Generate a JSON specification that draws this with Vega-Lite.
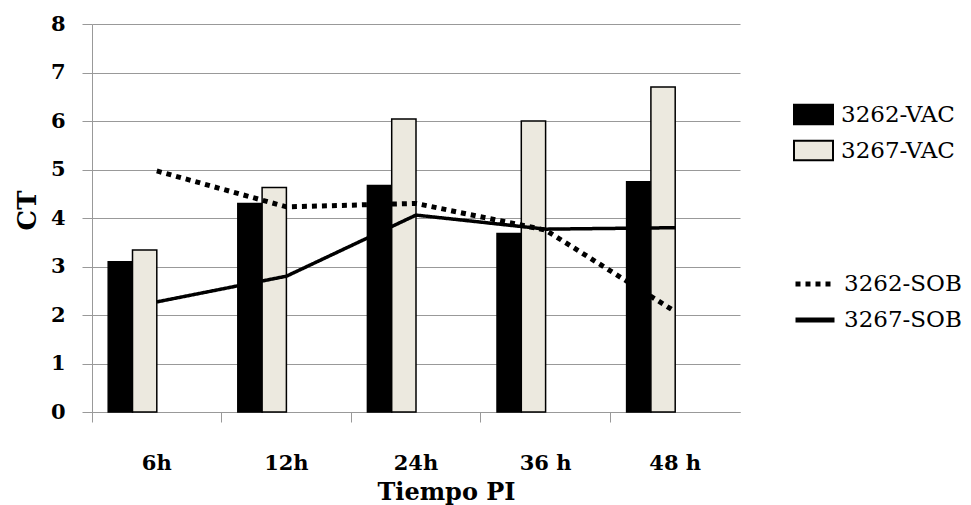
{
  "$schema": "https://vega.github.io/schema/vega-lite/v6.json",
  "width": 648,
  "height": 388,
  "autosize": {"type": "none"},
  "padding": {"left": 92, "top": 24, "right": 231, "bottom": 93},
  "background": "white",
  "config": {
    "view": {"stroke": null},
    "font": "DejaVu Serif",
    "axis": {"domainColor": "#999999", "tickColor": "#999999", "gridColor": "#999999", "labelColor": "black", "titleColor": "black"}
  },
  "data": {
    "values": [
      {"time": "6h", "series": "3262-VAC", "type": "bar", "value": 3.10},
      {"time": "12h", "series": "3262-VAC", "type": "bar", "value": 4.30},
      {"time": "24h", "series": "3262-VAC", "type": "bar", "value": 4.67},
      {"time": "36 h", "series": "3262-VAC", "type": "bar", "value": 3.68},
      {"time": "48 h", "series": "3262-VAC", "type": "bar", "value": 4.75},
      {"time": "6h", "series": "3267-VAC", "type": "bar", "value": 3.34},
      {"time": "12h", "series": "3267-VAC", "type": "bar", "value": 4.63},
      {"time": "24h", "series": "3267-VAC", "type": "bar", "value": 6.04},
      {"time": "36 h", "series": "3267-VAC", "type": "bar", "value": 6.00},
      {"time": "48 h", "series": "3267-VAC", "type": "bar", "value": 6.70},
      {"time": "6h", "series": "3262-SOB", "type": "line", "value": 4.97},
      {"time": "12h", "series": "3262-SOB", "type": "line", "value": 4.23},
      {"time": "24h", "series": "3262-SOB", "type": "line", "value": 4.30},
      {"time": "36 h", "series": "3262-SOB", "type": "line", "value": 3.75},
      {"time": "48 h", "series": "3262-SOB", "type": "line", "value": 2.07},
      {"time": "6h", "series": "3267-SOB", "type": "line", "value": 2.27},
      {"time": "12h", "series": "3267-SOB", "type": "line", "value": 2.80},
      {"time": "24h", "series": "3267-SOB", "type": "line", "value": 4.06},
      {"time": "36 h", "series": "3267-SOB", "type": "line", "value": 3.77},
      {"time": "48 h", "series": "3267-SOB", "type": "line", "value": 3.80}
    ]
  },
  "encoding": {
    "x": {
      "field": "time", "type": "nominal",
      "sort": ["6h", "12h", "24h", "36 h", "48 h"],
      "scale": {"paddingInner": 0, "paddingOuter": 0},
      "axis": {
        "title": "Tiempo PI", "labelAngle": 0, "labelFont": "DejaVu Serif", "labelFontWeight": "bold", "labelFontSize": 21,
        "labelBaseline": "alphabetic", "labelPadding": 47, "labelDx": -3,
        "tickSize": 10, "bandPosition": 0, "grid": false,
        "titleFont": "DejaVu Serif", "titleFontWeight": "bold", "titleFontSize": 24,
        "titleBaseline": "alphabetic", "titleX": 354, "titleY": 87, "titleAnchor": "middle"
      }
    },
    "y": {
      "field": "value", "type": "quantitative",
      "scale": {"domain": [0, 8], "nice": false},
      "axis": {
        "title": "CT", "values": [0,1,2,3,4,5,6,7,8], "labelOverlap": false, "grid": true, "tickSize": 10,
        "labelFont": "DejaVu Serif", "labelFontWeight": "bold", "labelFontSize": 21, "labelPadding": 17,
        "titleFont": "DejaVu Serif", "titleFontWeight": "bold", "titleFontSize": 26,
        "titleBaseline": "alphabetic", "titleX": -57, "titleY": 186, "titleAngle": 270, "titleAnchor": "middle"
      }
    }
  },
  "layer": [
    {
      "transform": [{"filter": "datum.type == 'bar'"}],
      "mark": {"type": "bar", "stroke": "black", "strokeWidth": 1.5},
      "encoding": {
        "xOffset": {
          "field": "series", "type": "nominal",
          "scale": {"domain": ["3262-VAC", "3267-VAC", "3262-SOB", "3267-SOB"], "paddingInner": 0, "paddingOuter": 0.667}
        },
        "fill": {
          "field": "series", "type": "nominal",
          "scale": {"domain": ["3262-VAC", "3267-VAC"], "range": ["black", "#ECE9DF"]},
          "legend": {
            "title": null, "orient": "none", "legendX": 701, "legendY": 70,
            "symbolType": "M-1,-0.5H1V0.5H-1Z", "symbolSize": 1521, "symbolStrokeColor": "black", "symbolStrokeWidth": 2,
            "labelFont": "DejaVu Serif", "labelFontSize": 23, "labelColor": "black", "labelOffset": 7, "rowPadding": 1, "labelLimit": 300
          }
        }
      }
    },
    {
      "transform": [{"filter": "datum.type == 'line'"}],
      "mark": {"type": "line", "color": "black", "strokeCap": "butt"},
      "encoding": {
        "detail": {"field": "series", "type": "nominal"},
        "strokeDash": {
          "field": "series", "type": "nominal",
          "scale": {"domain": ["3262-SOB", "3267-SOB"], "range": [[5, 5], [1, 0]]},
          "legend": {
            "title": null, "orient": "none", "legendX": 701, "legendY": 238,
            "symbolType": "stroke", "symbolSize": 1521, "symbolStrokeColor": "black", "symbolStrokeWidth": 5,
            "labelFont": "DejaVu Serif", "labelFontSize": 23, "labelColor": "black", "labelOffset": 7, "rowPadding": 2, "labelLimit": 300
          }
        },
        "strokeWidth": {
          "field": "series", "type": "nominal",
          "scale": {"domain": ["3262-SOB", "3267-SOB"], "range": [5, 3.5]},
          "legend": null
        }
      }
    }
  ],
  "resolve": {"scale": {"strokeDash": "independent"}}
}
